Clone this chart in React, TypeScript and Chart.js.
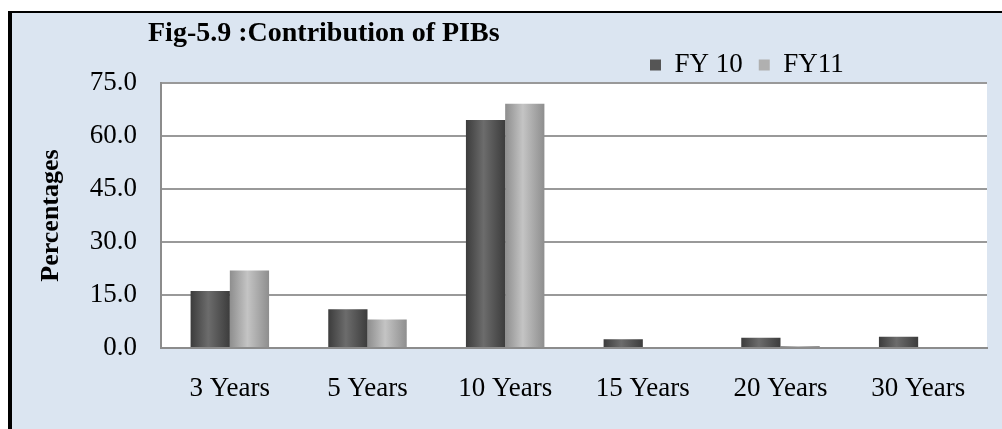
import React, { useEffect, useRef } from "react";
import { Chart, registerables } from "chart.js";

Chart.register(...registerables);

const categories = ["3 Years", "5 Years", "10 Years", "15 Years", "20 Years", "30 Years"];
const fy10Values = [16.1, 11.0, 64.5, 2.5, 2.9, 3.2];
const fy11Values = [21.9, 8.1, 69.1, 0, 0.6, 0];
const seriesLabels = ["FY 10", "FY11"];
const yTickValues = [0, 15, 30, 45, 60, 75];
const chartTitle = "Fig-5.9 :Contribution of PIBs";
const yAxisTitle = "Percentages";

const FONT = "'Liberation Serif', 'Times New Roman', serif";

const barShades: Record<number, [string, string]> = {
  0: ["#3c3c3c", "#6c6c6c"],
  1: ["#8e8e8e", "#c4c4c4"],
};

const plotBackground = {
  id: "plotBackground",
  beforeDraw(chart: any) {
    const { ctx, chartArea } = chart;
    ctx.save();
    ctx.fillStyle = "#ffffff";
    ctx.fillRect(chartArea.left, chartArea.top, chartArea.right - chartArea.left, chartArea.bottom - chartArea.top);
    ctx.restore();
  },
};

const barGradient = {
  id: "barGradient",
  beforeDatasetsDraw(chart: any) {
    const { ctx } = chart;
    chart.data.datasets.forEach((_: any, di: number) => {
      const meta = chart.getDatasetMeta(di);
      const [edge, mid] = barShades[di];
      meta.data.forEach((el: any) => {
        const w = el.width;
        const g = ctx.createLinearGradient(el.x - w / 2, 0, el.x + w / 2, 0);
        g.addColorStop(0, edge);
        g.addColorStop(0.45, mid);
        g.addColorStop(1, edge);
        el.options = Object.assign(Object.create(Object.getPrototypeOf(el.options)), el.options, {
          backgroundColor: g,
        });
      });
    });
  },
};

const placeHeader = {
  id: "placeHeader",
  afterLayout(chart: any) {
    const lg = chart.legend;
    if (lg) {
      const w = lg.right - lg.left;
      const h = lg.bottom - lg.top;
      lg.left = 634;
      lg.right = 634 + w;
      lg.top = 35.5;
      lg.bottom = 35.5 + h;
    }
    const tb = chart.titleBlock;
    if (tb) {
      tb.left = 148;
    }
  },
};

export default function App() {
  const canvasRef = useRef<HTMLCanvasElement | null>(null);

  useEffect(() => {
    const canvas = canvasRef.current;
    if (!canvas) return;
    const chart = new Chart(canvas, {
      type: "bar",
      data: {
        labels: categories,
        datasets: [
          {
            label: seriesLabels[0],
            data: fy10Values,
            backgroundColor: "#555555",
            borderWidth: 0,
            categoryPercentage: 0.57,
            barPercentage: 1,
          },
          {
            label: seriesLabels[1],
            data: fy11Values,
            backgroundColor: "#b0b0b0",
            borderWidth: 0,
            categoryPercentage: 0.57,
            barPercentage: 1,
          },
        ],
      },
      options: {
        responsive: false,
        animation: false,
        devicePixelRatio: 1,
        layout: { padding: { left: 0, right: 15, top: 0, bottom: 0 } },
        plugins: {
          title: {
            display: true,
            text: chartTitle,
            align: "start",
            color: "#000",
            font: { family: FONT, size: 28, weight: "bold" },
            padding: { top: 17.2, bottom: -20.8 },
          },
          legend: {
            display: true,
            position: "top",
            align: "start",
            labels: {
              boxWidth: 11,
              boxHeight: 11,
              padding: 16,
              color: "#000",
              font: { family: FONT, size: 27 },
            },
          },
          tooltip: { enabled: false },
        },
        scales: {
          x: {
            grid: { display: false, drawTicks: false },
            border: { display: true, color: "#8c8c8c", width: 2 },
            ticks: { color: "#000", font: { family: FONT, size: 27 }, padding: 25 },
            afterFit: (s: any) => {
              s.height = 81;
            },
          },
          y: {
            min: 0,
            max: 75,
            afterBuildTicks: (s: any) => {
              s.ticks = yTickValues.map((v) => ({ value: v }));
            },
            ticks: {
              color: "#000",
              font: { family: FONT, size: 27 },
              padding: 24,
              callback: (v: any) => Number(v).toFixed(1),
            },
            grid: { color: "#999999", lineWidth: 2, drawTicks: false },
            border: { display: true, color: "#8c8c8c", width: 2 },
            title: {
              display: true,
              text: yAxisTitle,
              color: "#000",
              font: { family: FONT, size: 26, weight: "bold" },
              padding: { top: 36, bottom: 0 },
            },
            afterFit: (s: any) => {
              s.width = 161;
            },
          },
        },
      },
      plugins: [plotBackground, barGradient, placeHeader],
    });
    return () => chart.destroy();
  }, []);

  return (
    <div style={{ position: "fixed", left: 0, top: 0, width: 1002, height: 429, background: "#ffffff", overflow: "hidden" }}>
      <div
        style={{
          position: "absolute",
          left: 8,
          top: 11,
          right: 0,
          bottom: 0,
          background: "#dbe5f1",
          borderLeft: "4px solid #000",
          borderTop: "2px solid #000",
        }}
      />
      <canvas
        ref={canvasRef}
        width={1002}
        height={429}
        style={{ position: "absolute", left: 0, top: 0, width: 1002, height: 429 }}
      />
    </div>
  );
}
